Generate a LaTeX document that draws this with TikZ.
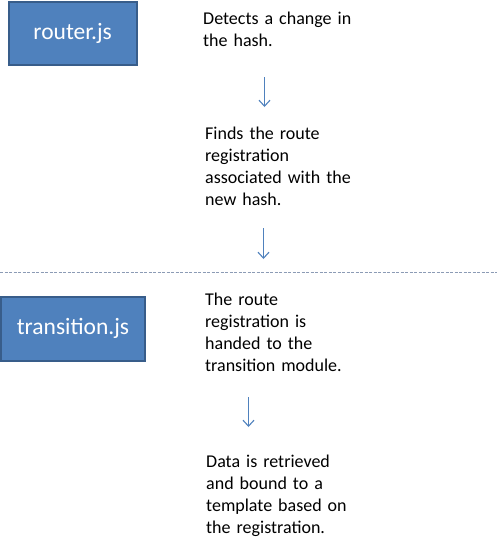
\documentclass[tikz,border=0pt]{standalone}
\usepackage{fontspec}
\setmainfont{Carlito}
\usetikzlibrary{arrows.meta}
\definecolor{boxfill}{HTML}{4F81BD}
\definecolor{boxline}{HTML}{385D8A}
\definecolor{arrowblue}{HTML}{4F81BD}
\definecolor{dashcol}{HTML}{8C9BB5}
\tikzset{
  modbox/.style={draw=boxline, line width=2pt, fill=boxfill, text=white, inner sep=0pt,
    font=\fontsize{23.5}{28}\selectfont},
  desc/.style={anchor=base west, inner sep=0pt, align=left, text width=200pt,
    font=\fontsize{18}{22}\selectfont},
  flow/.style={draw=arrowblue, line width=1.1pt, -{Straight Barb[length=6pt,width=11pt,line width=1.1pt]}}
}
\begin{document}
\begin{tikzpicture}[x=1pt,y=-1pt]
\useasboundingbox (0,0) rectangle (497,547);
\node[modbox, minimum width=128pt, minimum height=63pt] (router) at (72.7,33.3) {router.js};
\node[modbox, minimum width=144pt, minimum height=64pt] (transition) at (73,328.5) {transition.js};

\node[desc] (t1) at (203,24) {Detects a change in\\the hash.};
\node[desc] (t2) at (205,139) {Finds the route\\registration\\associated with the\\new hash.};
\node[desc] (t3) at (205,305) {The route\\registration is\\handed to the\\transition module.};
\node[desc] (t4) at (206,467) {Data is retrieved\\and bound to a\\template based on\\the registration.};

\coordinate (a1s) at (264.5,77);
\coordinate (a1e) at (264.5,107);
\coordinate (a2s) at (263.5,228);
\coordinate (a2e) at (263.5,259);
\coordinate (a3s) at (248.5,397);
\coordinate (a3e) at (248.5,427);
\draw[flow] (a1s) -- (a1e);
\draw[flow] (a2s) -- (a2e);
\draw[flow] (a3s) -- (a3e);

\coordinate (dl) at (0,272.5);
\coordinate (dr) at (497,272.5);
\draw[dashcol, line width=1pt, dash pattern=on 3pt off 1.5pt] (dl) -- (dr);
\end{tikzpicture}
\end{document}
